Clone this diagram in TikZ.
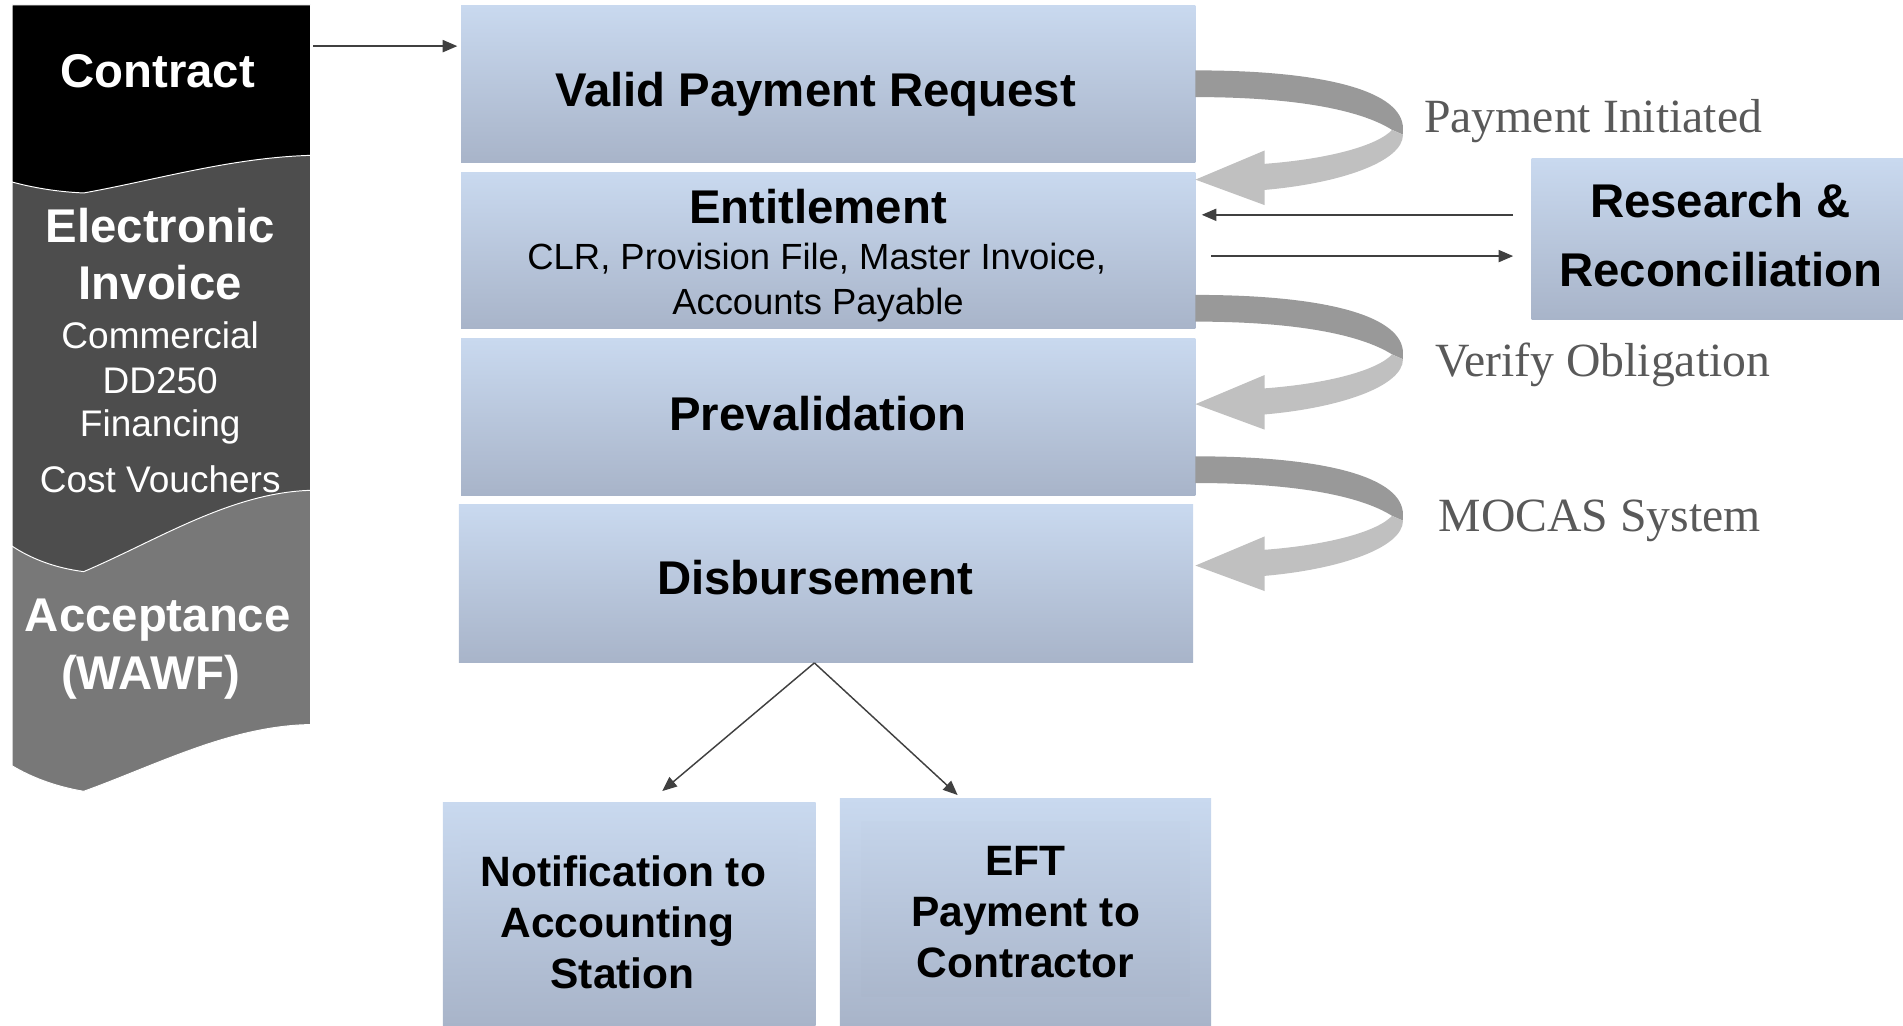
\documentclass[tikz,border=0pt]{standalone}
\usepackage{fontspec}
\setmainfont{Liberation Sans}
\newfontfamily\labelfont{Liberation Serif}
\usetikzlibrary{arrows.meta}

\definecolor{boxtop}{HTML}{C9D9EF}
\definecolor{boxbot}{HTML}{A8B4C9}
\definecolor{darkband}{HTML}{999999}
\definecolor{lightband}{HTML}{C0C0C0}
\definecolor{labelgray}{HTML}{595959}
\definecolor{linegray}{HTML}{404040}
\definecolor{invoicegray}{HTML}{4D4D4D}
\definecolor{acceptgray}{HTML}{787878}

\begin{document}
\begin{tikzpicture}[x=1pt,y=-1pt,
	mainbox/.style={rectangle,draw=none,inner sep=0pt,top color=boxtop,bottom color=boxbot},
	boxtitle/.style={anchor=base,font=\bfseries\fontsize{39}{47}\selectfont},
	boxlist/.style={anchor=base,font=\fontsize{30}{36}\selectfont},
	sidetitle/.style={anchor=base,text=white,font=\bfseries\fontsize{39}{47}\selectfont},
	sidelist/.style={anchor=base,text=white,font=\fontsize{30.5}{36}\selectfont},
	endtitle/.style={anchor=base,font=\bfseries\fontsize{35}{42}\selectfont},
	looplabel/.style={anchor=base west,text=labelgray,font=\labelfont\fontsize{39.3}{46}\selectfont},
	conn/.style={draw=linegray,line width=1.2pt,-{Triangle[length=12pt,width=10pt]}},
	loopback/.pic={
		\fill[darkband] (0,0) .. controls (110,0) and (171,18) .. (171,48) -- (171,53) -- (162,49)
			.. controls (135,32) and (80,22) .. (0,22) -- cycle;
		\fill[lightband] (162,49) -- (171,53) .. controls (171,75) and (120,93) .. (57,98.5)
			-- (57,111) -- (0,90) -- (57,66) -- (57,77) .. controls (110,73) and (150,62) .. (162,49) -- cycle;
	}]

	\useasboundingbox (0,0) rectangle (1568,845);

	%document stack on the left
	\filldraw[fill=acceptgray, draw=white, line width=0.8pt] (10,380) -- (256,380) -- (256,597)
		.. controls (190,598) and (130,630) .. (69,652) .. controls (45,648) and (25,640) .. (10,631) -- cycle;
	\filldraw[fill=invoicegray, draw=white, line width=0.8pt] (10,120) -- (256,120) -- (256,404)
		.. controls (190,406) and (130,445) .. (69,471) .. controls (45,468) and (25,460) .. (10,450) -- cycle;
	\filldraw[fill=black, draw=white, line width=0.8pt] (10,4) -- (256,4) -- (256,128)
		.. controls (190,130) and (130,148) .. (69,159) .. controls (45,158) and (25,154) .. (10,150) -- cycle;

	\node[sidetitle] (contract) at (130,72) {Contract};
	\node[sidetitle] (einv1) at (132,200) {Electronic};
	\node[sidetitle] (einv2) at (132,247) {Invoice};
	\foreach \doc/\yy [count=\i] in {Commercial/287,DD250/324,Financing/360,Cost Vouchers/406}
		\node[sidelist] (doc\i) at (132,\yy) {\doc};
	\node[sidetitle] (accept1) at (130,520) {Acceptance};
	\node[sidetitle] (accept2) at (124,568) {(WAWF)};
	\coordinate (contractout) at (258,38);

	%payment steps
	\node[mainbox, minimum width=605pt, minimum height=129pt] (valid) at (682.5,69) {};
	\node[mainbox, minimum width=605pt, minimum height=129pt] (entit) at (682.5,206.5) {};
	\node[mainbox, minimum width=605pt, minimum height=129pt] (preval) at (682.5,343.5) {};
	\node[mainbox, minimum width=605pt, minimum height=130pt] (disb) at (680.5,481) {};

	\node[boxtitle] (validtxt) at (672,88) {Valid Payment Request};
	\node[boxtitle] (entittxt) at (674,184) {Entitlement};
	\node[boxlist] (entitlist1) at (673,222) {CLR, Provision File, Master Invoice,};
	\node[boxlist] (entitlist2) at (674,259) {Accounts Payable};
	\node[boxtitle] (prevaltxt) at (674,355) {Prevalidation};
	\node[boxtitle] (disbtxt) at (671.5,490) {Disbursement};

	%side box
	\node[mainbox, minimum width=306pt, minimum height=132pt] (research) at (1415,197) {};
	\node[boxtitle] (researchtxt1) at (1417.5,179) {Research \&};
	\node[boxtitle] (researchtxt2) at (1418,236) {Reconciliation};

	%results
	\node[mainbox, minimum width=307pt, minimum height=184pt] (notif) at (518.5,753) {};
	\node[mainbox, minimum width=306pt, minimum height=187pt] (eft) at (845,751.5) {};
	\shade[top color=boxtop!85!boxbot, bottom color=boxbot!92!boxtop] (380,687) rectangle (657,830);
	\shade[top color=boxtop!85!boxbot, bottom color=boxbot!92!boxtop] (710,677) rectangle (980,821);
	\node[endtitle] (notiftxt1) at (513.5,730.5) {Notification to};
	\node[endtitle] (notiftxt2) at (508.5,772.5) {Accounting};
	\node[endtitle] (notiftxt3) at (513,814.5) {Station};
	\node[endtitle] (efttxt1) at (845,721.5) {EFT};
	\node[endtitle] (efttxt2) at (845,763.5) {Payment to};
	\node[endtitle] (efttxt3) at (845,805.5) {Contractor};

	%loop arrows
	\pic at (985,58) {loopback};
	\pic at (985,243) {loopback};
	\pic at (985,376) {loopback};
	\node[looplabel] (lblpay) at (1170,109) {Payment Initiated};
	\node[looplabel] (lblverify) at (1179,310) {Verify Obligation};
	\node[looplabel] (lblmocas) at (1182,438) {MOCAS System};

	%connectors
	\draw[conn, shorten >=3pt] (contractout) -- (contractout -| valid.west);
	\coordinate (rrin) at ([yshift=20pt]research.west);
	\coordinate (rrout) at ([yshift=-14pt]research.west);
	\draw[conn, shorten <=15pt, shorten >=5pt] (rrin) -- (rrin -| entit.east);
	\draw[conn, shorten <=13pt, shorten >=15pt] (rrout -| entit.east) -- (rrout);
	\draw[conn, shorten >=14pt] ([xshift=-9.5pt]disb.south) -- ([xshift=16.5pt]notif.north);
	\draw[conn, shorten >=4pt] ([xshift=-9.5pt]disb.south) -- ([xshift=-53pt]eft.north);

\end{tikzpicture}
\end{document}
